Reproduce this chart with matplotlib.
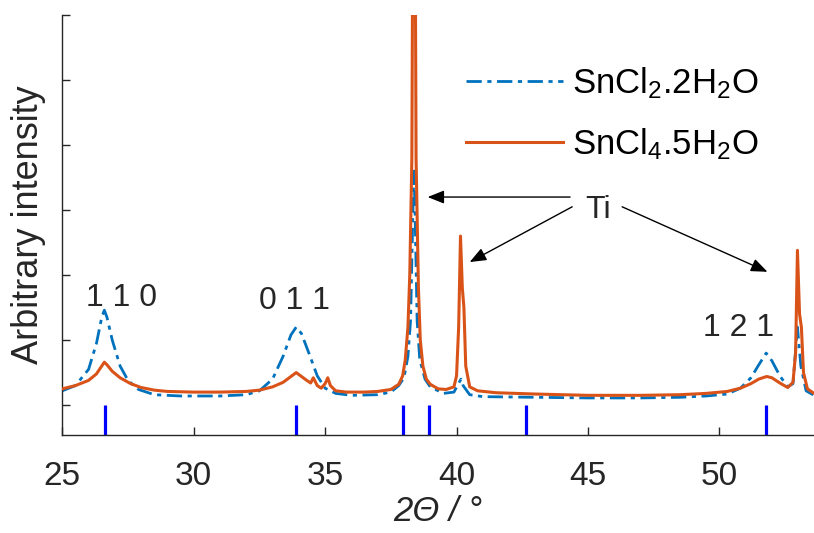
import matplotlib
matplotlib.use('Agg')
import matplotlib.pyplot as plt

plt.rcParams['font.family'] = ['Liberation Sans', 'DejaVu Sans']
plt.rcParams['mathtext.fontset'] = 'custom'
plt.rcParams['mathtext.rm'] = 'Liberation Sans'
plt.rcParams['mathtext.it'] = 'Liberation Sans:italic'

# SnCl4.5H2O (orange, solid)
x_sn4 = [25.0, 25.5, 26.0, 26.3, 26.5, 26.6, 26.7, 26.9, 27.2, 27.6, 28.0, 28.5,
         29.0, 30.0, 31.0, 32.0, 32.5, 33.0, 33.4, 33.7, 33.9, 34.1, 34.3, 34.45,
         34.55, 34.7, 34.85, 35.0, 35.1, 35.2, 35.4, 35.8, 36.5, 37.0, 37.5, 37.8,
         37.95, 38.05, 38.15, 38.22, 38.3, 38.35, 38.41, 38.46, 38.55, 38.62, 38.72,
         38.85, 39.0, 39.3, 39.6, 39.9, 40.0, 40.08, 40.15, 40.22, 40.28, 40.35,
         40.5, 40.8, 41.5, 43.0, 45.0, 47.0, 48.5, 49.5, 50.3, 50.8, 51.2, 51.5,
         51.8, 52.0, 52.3, 52.6, 52.8, 52.9, 52.97, 53.05, 53.12, 53.2, 53.35, 53.6]
y_sn4 = [0.25, 0.30, 0.38, 0.48, 0.60, 0.66, 0.62, 0.52, 0.42, 0.33, 0.27, 0.23,
         0.21, 0.20, 0.20, 0.21, 0.23, 0.28, 0.35, 0.44, 0.50, 0.44, 0.38, 0.34,
         0.42, 0.30, 0.26, 0.33, 0.42, 0.30, 0.22, 0.20, 0.20, 0.21, 0.24, 0.32,
         0.45, 0.70, 1.20, 2.00, 3.80, 9.00, 9.00, 3.80, 1.80, 1.00, 0.60,
         0.40, 0.32, 0.25, 0.24, 0.28, 0.45, 1.20, 2.60, 1.80, 1.50, 0.60,
         0.28, 0.22, 0.19, 0.17, 0.15, 0.15, 0.16, 0.18, 0.21, 0.26, 0.33, 0.40,
         0.44, 0.42, 0.34, 0.27, 0.35, 0.80, 2.38, 1.40, 1.20, 0.50, 0.25, 0.18]

# SnCl2.2H2O (blue, dash-dot)
x_sn2 = [25.0, 25.5, 26.0, 26.3, 26.5, 26.6, 26.7, 26.9, 27.2, 27.5, 27.9, 28.5,
         29.5, 31.0, 32.0, 32.5, 33.0, 33.4, 33.7, 33.9, 34.1, 34.4, 34.7, 35.0,
         35.4, 36.0, 37.0, 37.5, 37.8, 38.0, 38.15, 38.25, 38.34, 38.38, 38.42,
         38.5, 38.6, 38.8, 39.0, 39.5, 39.9, 40.1, 40.17, 40.25, 40.5, 41.0,
         43.0, 45.0, 47.0, 48.5, 49.5, 50.3, 50.8, 51.2, 51.5, 51.78, 52.0, 52.3,
         52.6, 52.8, 52.97, 53.1, 53.3, 53.6]
y_sn2 = [0.22, 0.30, 0.55, 0.95, 1.35, 1.46, 1.35, 1.00, 0.60, 0.38, 0.24, 0.16,
         0.14, 0.14, 0.16, 0.22, 0.40, 0.75, 1.08, 1.20, 1.10, 0.78, 0.45, 0.26,
         0.18, 0.15, 0.16, 0.20, 0.30, 0.42, 0.75, 1.30, 3.00, 3.60, 3.00,
         1.30, 0.70, 0.40, 0.28, 0.18, 0.20, 0.35, 0.40, 0.30, 0.16, 0.13,
         0.12, 0.11, 0.11, 0.12, 0.14, 0.17, 0.26, 0.42, 0.62, 0.80, 0.68, 0.45,
         0.28, 0.33, 1.20, 0.60, 0.22, 0.15]

# SnO2 reference reflections
ref_pos = [26.61, 33.89, 37.95, 38.97, 42.64, 51.78]

hkl_labels = ['1 1 0', '0 1 1', '1 2 1']
hkl_x = [27.25, 33.82, 50.73]
hkl_y = [1.65, 1.6, 1.18]

fig = plt.figure(figsize=(8.14, 5.33), dpi=100)
ax = fig.add_axes([62.3 / 814, 1 - 435 / 533, 1 - 62.3 / 814, 420 / 533])

ax.vlines(ref_pos, -0.46, 0.0, colors='#0000FF', linewidth=2.3, zorder=1)
ax.plot(x_sn2, y_sn2, color='#0072BD', linewidth=2.0,
        linestyle=(0, (5.5, 2, 1.5, 2)), label=r'SnCl$_2$.2H$_2$O', zorder=2)
ax.plot(x_sn4, y_sn4, color='#D95319', linewidth=2.2,
        label=r'SnCl$_4$.5H$_2$O', zorder=3)

for lab, xx, yy in zip(hkl_labels, hkl_x, hkl_y):
    ax.text(xx, yy, lab, ha='center', va='center', fontsize=23, color='#262626')

ax.text(45.39, 3.0, 'Ti', ha='center', va='center', fontsize=23, color='#262626')
arrow_kw = dict(arrowstyle='-|>,head_length=1.0,head_width=0.4', color='black',
                lw=1.0, shrinkA=0, shrinkB=0)
ax.annotate('', xy=(38.9, 3.2), xytext=(44.32, 3.2), arrowprops=arrow_kw)
ax.annotate('', xy=(40.5, 2.2), xytext=(44.4, 3.05), arrowprops=arrow_kw)
ax.annotate('', xy=(51.83, 2.05), xytext=(46.3, 3.05), arrowprops=arrow_kw)

ax.set_xlim(25, 53.6)
ax.set_ylim(-0.46, 6.0)
ax.set_xticks([25, 30, 35, 40, 45, 50])
ax.set_yticks([0, 1, 2, 3, 4, 5, 6])
ax.set_yticklabels([])
ax.tick_params(direction='in', length=6, width=1, colors='#262626',
               labelsize=24, pad=19)
ax.spines['top'].set_visible(False)
ax.spines['right'].set_visible(False)
for s in ['left', 'bottom']:
    ax.spines[s].set_color('#262626')
    ax.spines[s].set_linewidth(1.0)

ax.set_xlabel('2Θ / °', fontsize=25, fontstyle='italic', color='#262626', labelpad=2)
ax.set_ylabel('Arbitrary intensity', fontsize=26, color='#262626')
ax.yaxis.set_label_coords(-0.022, 0.5)

ax.legend(loc='upper left', bbox_to_anchor=(0.495, 0.955), frameon=False,
          fontsize=25, handlelength=2.8, handletextpad=0.25, labelspacing=0.72)

fig.savefig('out.png', dpi=100)
